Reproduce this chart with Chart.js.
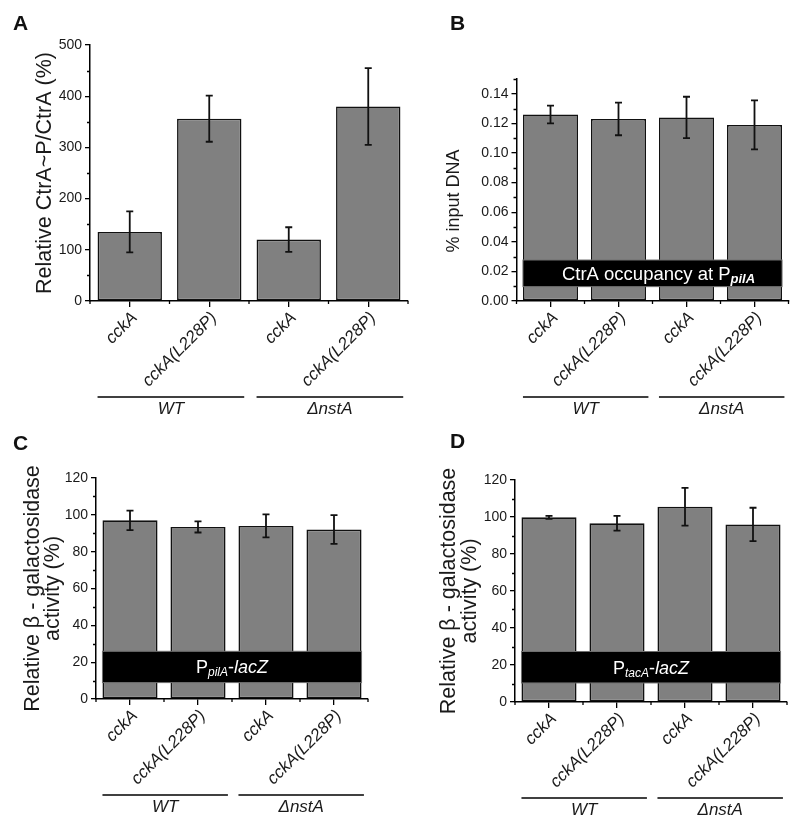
<!DOCTYPE html>
<html>
<head>
<meta charset="utf-8">
<script src="https://cdn.jsdelivr.net/npm/chart.js@4.4.1/dist/chart.umd.min.js"></script>
<style>
  body { margin: 0; background: #fff; }
  #wrap { position: relative; width: 800px; height: 826px; background: #fff; overflow: hidden; }
  canvas { position: absolute; }
  .lbl { position: absolute; font: bold 21px 'Liberation Sans', Arial, sans-serif; line-height: 21px; color: #111; }
</style>
</head>
<body>
<div id="wrap">
  <canvas id="chartA" width="420" height="420" style="left:0;top:0"></canvas>
  <canvas id="chartB" width="385" height="420" style="left:415px;top:0"></canvas>
  <canvas id="chartC" width="400" height="406" style="left:0;top:420px"></canvas>
  <canvas id="chartD" width="400" height="406" style="left:400px;top:420px"></canvas>
  <div class="lbl" style="left:13px;top:12px">A</div>
  <div class="lbl" style="left:450px;top:12px">B</div>
  <div class="lbl" style="left:13px;top:432px">C</div>
  <div class="lbl" style="left:450px;top:430px">D</div>
</div>
<script>
// strains shown on every panel
const categories = ['cckA', 'cckA(L228P)', 'cckA', 'cckA(L228P)'];
const groups = ['WT', 'ΔnstA'];

// A: CtrA~P / CtrA
const ratioValues = [135, 356, 120, 380];
const ratioErrors = [40, 45, 24, 75];

// B: ChIP at PpilA
const occupancyValues = [0.126, 0.123, 0.124, 0.119];
const occupancyErrors = [0.006, 0.011, 0.014, 0.0165];

// C: PpilA-lacZ
const pilAValues = [97, 93.4, 94, 92];
const pilAErrors = [5.3, 3, 6.2, 7.8];

// D: PtacA-lacZ
const tacAValues = [99.8, 96.6, 105.5, 96];
const tacAErrors = [0.8, 4, 10.2, 9];

const FONT = "'Liberation Sans', Arial, sans-serif";
Chart.defaults.font.family = FONT;
Chart.defaults.color = '#1a1a1a';

function panelPlugin(p) {
  return {
    id: 'panel_' + p.name,
    afterDatasetsDraw(chart) {
      const ctx = chart.ctx;
      const y = chart.scales.y;
      const bars = chart.getDatasetMeta(0).data;
      ctx.save();
      if (p.box) {
        const first = bars[0], last = bars[bars.length - 1];
        const x0 = first.x - first.width / 2, x1 = last.x + last.width / 2;
        const yt = y.getPixelForValue(p.box.top), yb = y.getPixelForValue(p.box.bottom);
        ctx.fillStyle = '#000';
        ctx.fillRect(x0, yt, x1 - x0, yb - yt);
        ctx.strokeStyle = '#707070';
        ctx.lineWidth = 1;
        ctx.strokeRect(x0, yt, x1 - x0, yb - yt);
        // label with subscript
        let total = 0;
        p.box.text.forEach(s => { ctx.font = s.font; total += ctx.measureText(s.t).width; });
        let tx = (x0 + x1) / 2 - total / 2 + (p.box.dx || 0);
        const base = (yt + yb) / 2 + 6.5;
        ctx.fillStyle = '#fff';
        ctx.textBaseline = 'alphabetic';
        p.box.text.forEach(s => {
          ctx.font = s.font;
          ctx.fillText(s.t, tx, base + (s.dy || 0));
          tx += ctx.measureText(s.t).width;
        });
      }
      // error bars
      ctx.strokeStyle = '#111';
      ctx.lineWidth = 1.8;
      p.values.forEach((v, i) => {
        const cx = bars[i].x;
        const hi = y.getPixelForValue(v + p.errors[i]);
        const lo = y.getPixelForValue(v - p.errors[i]);
        ctx.beginPath();
        ctx.moveTo(cx, hi); ctx.lineTo(cx, lo);
        ctx.moveTo(cx - 3.5, hi); ctx.lineTo(cx + 3.5, hi);
        ctx.moveTo(cx - 3.5, lo); ctx.lineTo(cx + 3.5, lo);
        ctx.stroke();
      });
      ctx.restore();
    },
    afterDraw(chart) {
      const ctx = chart.ctx;
      const x = chart.scales.x, y = chart.scales.y;
      const area = chart.chartArea;
      const step = x.getPixelForValue(1) - x.getPixelForValue(0);
      ctx.save();
      ctx.strokeStyle = '#000';
      ctx.lineWidth = 1.3;
      ctx.beginPath();
      // minor ticks on y
      for (let v = p.minorStep; v < p.max + 1e-9; v += p.majorStep) {
        const py = Math.round(y.getPixelForValue(v)) + 0.5;
        ctx.moveTo(area.left, py); ctx.lineTo(area.left - 3, py);
      }
      // minor ticks on x, between categories
      for (let i = 0; i <= categories.length; i++) {
        const px = x.getPixelForValue(0) + (i - 0.5) * step;
        ctx.moveTo(px, area.bottom); ctx.lineTo(px, area.bottom + 3);
      }
      ctx.stroke();

      // y axis title
      ctx.fillStyle = '#1a1a1a';
      ctx.font = p.titleSize + 'px ' + FONT;
      ctx.textAlign = 'center';
      ctx.textBaseline = 'middle';
      const lines = [].concat(p.title);
      ctx.save();
      ctx.translate(p.titleX, (area.top + area.bottom) / 2 + (p.titleDy || 0));
      ctx.rotate(-Math.PI / 2);
      lines.forEach((t, i) => {
        ctx.fillText(t, 0, (i - (lines.length - 1) / 2) * p.titleLine);
      });
      ctx.restore();

      // group brackets
      const lineY = area.bottom + 96;
      ctx.lineWidth = 1.3;
      ctx.font = 'italic 17px ' + FONT;
      groups.forEach((g, gi) => {
        const a = x.getPixelForValue(gi * 2) - step * 0.405;
        const b = x.getPixelForValue(gi * 2 + 1) + step * 0.44;
        ctx.beginPath();
        ctx.moveTo(a, lineY); ctx.lineTo(b, lineY);
        ctx.stroke();
        ctx.fillText(g, (a + b) / 2, lineY + 12);
      });
      ctx.restore();
    }
  };
}

function makePanel(id, p) {
  new Chart(document.getElementById(id), {
    type: 'bar',
    data: {
      labels: categories,
      datasets: [{
        data: p.values,
        backgroundColor: '#808080',
        borderColor: '#111',
        borderWidth: 1.6,
        borderSkipped: false,
        barPercentage: 0.81,
        categoryPercentage: 1.0
      }]
    },
    options: {
      responsive: false,
      animation: false,
      layout: { padding: p.padding },
      plugins: { legend: { display: false }, tooltip: { enabled: false } },
      scales: {
        x: {
          offset: true,
          grid: { offset: false, drawOnChartArea: false, tickLength: 6, color: '#000', lineWidth: 1.3 },
          border: { color: '#000', width: 1.5 },
          ticks: { font: { size: 17, style: 'italic' }, maxRotation: 45, minRotation: 45, autoSkip: false, padding: 1, labelOffset: 5 },
          afterFit: s => { s.height = p.xh; }
        },
        y: {
          min: 0,
          max: p.max,
          grid: { drawOnChartArea: false, tickLength: 5, color: '#000', lineWidth: 1.3 },
          border: { color: '#000', width: 1.5 },
          ticks: {
            stepSize: p.majorStep,
            includeBounds: false,
            font: { size: 14 },
            padding: 3,
            callback: v => v.toFixed(p.decimals)
          },
          afterFit: s => { s.width = p.yw; }
        }
      }
    },
    plugins: [panelPlugin(p)]
  });
}

makePanel('chartA', {
  name: 'A', values: ratioValues, errors: ratioErrors,
  max: 500, majorStep: 100, minorStep: 50, decimals: 0,
  title: 'Relative CtrA~P/CtrA (%)', titleSize: 21.5, titleLine: 0, titleX: 45,
  padding: { left: 10, right: 12, top: 45, bottom: 9 }, yw: 80, xh: 110
});

makePanel('chartB', {
  name: 'B', values: occupancyValues, errors: occupancyErrors,
  max: 0.15, majorStep: 0.02, minorStep: 0.01, decimals: 2,
  title: '% input DNA', titleSize: 18, titleLine: 0, titleX: 39, titleDy: 11,
  padding: { left: 11.5, right: 11.5, top: 79, bottom: 9 }, yw: 90, xh: 110,
  box: {
    bottom: 0.0097, top: 0.0277, dx: 6,
    text: [
      { t: 'CtrA occupancy at P', font: '18.5px ' + FONT },
      { t: 'pilA', font: 'italic bold 13px ' + FONT, dy: 3 }
    ]
  }
});

makePanel('chartC', {
  name: 'C', values: pilAValues, errors: pilAErrors,
  max: 120, majorStep: 20, minorStep: 10, decimals: 0,
  title: ['Relative β - galactosidase', 'activity (%)'], titleSize: 21.5, titleLine: 20, titleX: 43.5,
  padding: { left: 10, right: 32, top: 58, bottom: 10 }, yw: 86, xh: 117,
  box: {
    bottom: 8.9, top: 25.9,
    text: [
      { t: 'P', font: '18px ' + FONT },
      { t: 'pilA', font: 'italic 12px ' + FONT, dy: 3 },
      { t: '-', font: '18px ' + FONT },
      { t: 'lacZ', font: 'italic 18px ' + FONT }
    ]
  }
});

makePanel('chartD', {
  name: 'D', values: tacAValues, errors: tacAErrors,
  max: 120, majorStep: 20, minorStep: 10, decimals: 0,
  title: ['Relative β - galactosidase', 'activity (%)'], titleSize: 21.5, titleLine: 21, titleX: 60,
  padding: { left: 15, right: 13, top: 60, bottom: 10 }, yw: 100, xh: 114,
  box: {
    bottom: 10.3, top: 27.3,
    text: [
      { t: 'P', font: '18px ' + FONT },
      { t: 'tacA', font: 'italic 12px ' + FONT, dy: 3 },
      { t: '-', font: '18px ' + FONT },
      { t: 'lacZ', font: 'italic 18px ' + FONT }
    ]
  }
});
</script>
</body>
</html>
